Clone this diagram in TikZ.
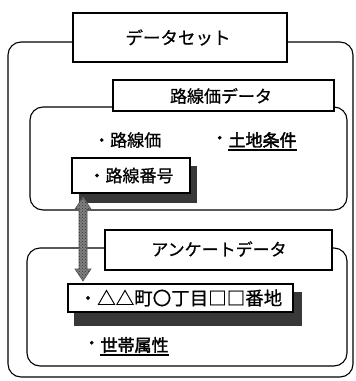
\documentclass[tikz,border=0pt]{standalone}
\usepackage{fontspec}
\setmainfont{Noto Sans CJK JP}[FakeBold=0.6]
\newfontfamily\jpbold[FakeBold=2.2]{Noto Sans CJK JP}
\usetikzlibrary{calc,patterns}
\begin{document}
\begin{tikzpicture}[x=1pt,y=-1pt,
  frame/.style={draw=black,line width=1.1pt,rounded corners=13pt},
  titlebox/.style={draw=black,line width=1.3pt,fill=white},
  itembox/.style={draw=black,line width=1.5pt,fill=white},
  shadowbox/.style={fill=black!78,draw=none},
  txt/.style={font=\fontsize{17}{19}\selectfont,inner sep=0pt},
  btxt/.style={font=\fontsize{17}{19}\selectfont\jpbold,inner sep=0pt,anchor=west},
  uline/.style={line width=1.3pt},
  dblarrow/.style={fill=black!50,draw=black!65,line width=0.6pt}]
\useasboundingbox (0,0) rectangle (356,381);
% outer frame
\draw[frame] (8,42) rectangle (353,377);
\draw[titlebox] (73,13) rectangle (287,62);
\node[txt,font=\fontsize{17.5}{19}\selectfont] (tds) at (178,37.5) {データセット};
% inner 1
\draw[frame] (30,107) rectangle (347,210);
\draw[titlebox] (113,80) rectangle (334,111);
\node[txt] (trd) at (221,96) {路線価データ};
\node[txt,anchor=west] (rv) at (93,140) {・路線価};
\node[txt,anchor=west] (tcd) at (211,140) {・};
\node[btxt] (tc) at (tcd.east) {土地条件};
\draw[uline] ($(tc.base west)+(0,3.5)$) -- ($(tc.base east)+(0,3.5)$);
\fill[shadowbox] (79,166) rectangle (197,203);
\node[itembox,minimum width=118pt,minimum height=35pt,inner sep=0pt,font=\fontsize{17}{19}\selectfont] (rn) at (131,175.5) {・路線番号};
% inner 2
\draw[frame] (27,248) rectangle (347,366);
\draw[titlebox] (105,230) rectangle (332,270);
\node[txt] (tan) at (219,249) {アンケートデータ};
\fill[shadowbox] (74,292) rectangle (302,326);
\node[itembox,minimum width=225pt,minimum height=28pt,inner sep=0pt,font=\fontsize{18.5}{20}\selectfont] (ad) at (180.5,298) {・△△町〇丁目□□番地};
\node[txt,anchor=west] (sad) at (83,345) {・};
\node[btxt] (sa) at (sad.east) {世帯属性};
\draw[uline] ($(sa.base west)+(0,3.5)$) -- ($(sa.base east)+(0,3.5)$);
% double arrow
\coordinate (a1) at (83,197);
\coordinate (a2) at (83,281);
\draw[dblarrow] (a1) -- ++(8,12) -- ++(-4,0) -- ($(a2)+(4,-12)$) -- ++(4,0) -- (a2) -- ++(-8,-12) -- ++(4,0) -- ($(a1)+(-4,12)$) -- ++(-4,0) -- cycle;
\fill[pattern=crosshatch dots,pattern color=black!80] (a1) -- ++(8,12) -- ++(-4,0) -- ($(a2)+(4,-12)$) -- ++(4,0) -- (a2) -- ++(-8,-12) -- ++(4,0) -- ($(a1)+(-4,12)$) -- ++(-4,0) -- cycle;
\end{tikzpicture}
\end{document}
